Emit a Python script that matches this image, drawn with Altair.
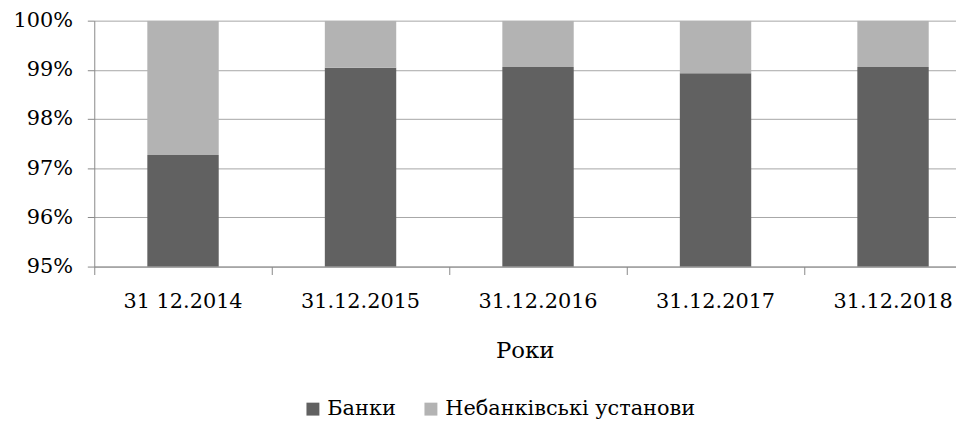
import altair as alt
import pandas as pd

years = ["31 12.2014", "31.12.2015", "31.12.2016", "31.12.2017", "31.12.2018"]
banks = [0.9727, 0.9904, 0.9906, 0.9893, 0.9906]
nonbanks = [round(1 - b, 4) for b in banks]
series = ["Банки", "Небанківські установи"]

rows = []
for y, b, n in zip(years, banks, nonbanks):
    rows.append({"year": y, "type": series[0], "value": b, "ord": 0})
    rows.append({"year": y, "type": series[1], "value": n, "ord": 1})
df = pd.DataFrame(rows)

FONT = "DejaVu Serif"
FS = 21

chart = alt.Chart(df).mark_bar(size=72, clip=True).encode(
    x=alt.X("year:N", sort=years, title="Роки",
            scale=alt.Scale(paddingInner=0, paddingOuter=0, range=[0, 895]),
            axis=alt.Axis(labelAngle=0, bandPosition=0,
                          tickSize=8, tickColor="#888888", domainColor="#888888",
                          labelFont=FONT, labelFontSize=FS, labelColor="#000000",
                          labelPadding=16, titleFont=FONT, titleFontSize=23,
                          titleFontWeight="normal", titleColor="#000000",
                          titleX=434, titleAlign="center",
                          titlePadding=29, grid=False, labelBound=False)),
    y=alt.Y("value:Q", stack="zero", title=None,
            scale=alt.Scale(domain=[0.95, 1.0], zero=False, nice=False),
            axis=alt.Axis(format=".0%", values=[0.95, 0.96, 0.97, 0.98, 0.99, 1.0],
                          tickSize=7, tickColor="#888888", domainColor="#888888",
                          gridColor="#a6a6a6", labelFont=FONT, labelFontSize=FS,
                          labelColor="#000000", labelPadding=15)),
    color=alt.Color("type:N", sort=series,
                    scale=alt.Scale(domain=series, range=["#616161", "#b3b3b3"]),
                    legend=alt.Legend(title=None, orient="none", direction="horizontal",
                                      legendX=210, legendY=381, symbolType="square",
                                      symbolSize=170, symbolStrokeWidth=0,
                                      labelFont=FONT, labelFontSize=FS, labelLimit=0,
                                      labelColor="#000000", columnPadding=24,
                                      symbolOffset=0, labelOffset=4)),
    order=alt.Order("ord:Q"),
).properties(
    width=869, height=248,
    autosize=alt.AutoSizeParams(type="none"),
    padding={"left": 87, "top": 11, "right": 0, "bottom": 157},
).configure_view(stroke=None)

chart.save("out.html", embed_options={"renderer": "svg", "actions": False})
